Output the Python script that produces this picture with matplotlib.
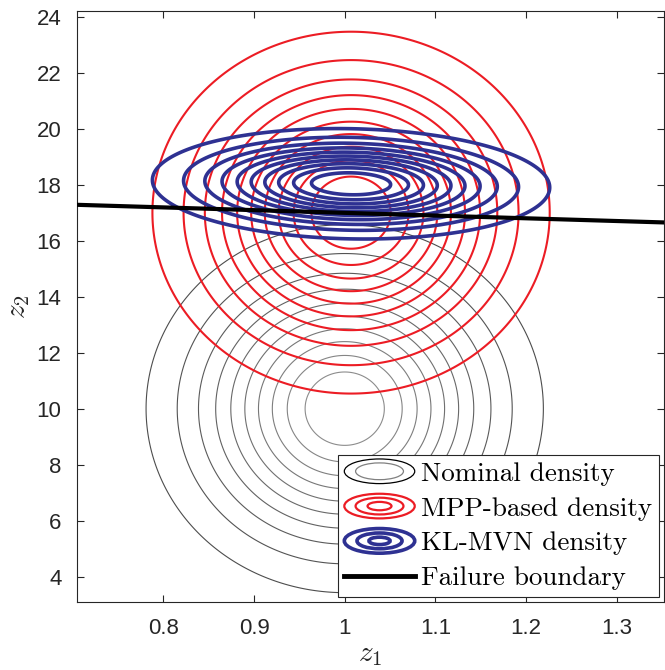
import numpy as np
import matplotlib
matplotlib.use("Agg")
import matplotlib.pyplot as plt
from matplotlib.patches import Ellipse
from matplotlib.lines import Line2D
from matplotlib.legend_handler import HandlerBase

plt.rcParams['font.family'] = ['Liberation Sans', 'DejaVu Sans']
plt.rcParams['mathtext.fontset'] = 'cm'

# Gaussian densities: mean (z1, z2), std (z1, z2), correlation
NOMINAL_MEAN = [1.0, 10.0]
NOMINAL_STD = [0.1, 3.0]
NOMINAL_RHO = 0.0

MPP_MEAN = [1.007, 17.0]
MPP_STD = [0.1, 2.95]
MPP_RHO = 0.0

KL_MEAN = [1.007, 18.03]
KL_STD = [0.1, 0.9]
KL_RHO = -0.067

# contour levels as fraction of each density's peak
LEVEL_FRACTIONS = [1/11, 2/11, 3/11, 4/11, 5/11, 6/11, 7/11, 8/11, 9/11, 10/11]

# failure boundary (straight line across the axes)
BOUNDARY_Z1 = [0.7045, 1.352]
BOUNDARY_Z2 = [17.28, 16.65]

XLIM = (0.7045, 1.352)
YLIM = (3.085, 24.21)
XTICKS = [0.8, 0.9, 1.0, 1.1, 1.2, 1.3]
XTICKLABELS = ['0.8', '0.9', '1', '1.1', '1.2', '1.3']
YTICKS = [4, 6, 8, 10, 12, 14, 16, 18, 20, 22, 24]

LABELS = ['Nominal density', 'MPP-based density', 'KL-MVN density',
          'Failure boundary']

RED = '#EC1C24'
BLUE = '#2E3192'


def gauss_pdf(Z1, Z2, mean, std, rho):
    u = (Z1 - mean[0]) / std[0]
    v = (Z2 - mean[1]) / std[1]
    q = (u ** 2 - 2 * rho * u * v + v ** 2) / (1 - rho ** 2)
    return np.exp(-0.5 * q) / (2 * np.pi * std[0] * std[1] * np.sqrt(1 - rho ** 2))


def peak_levels(mean, std, rho):
    peak = 1.0 / (2 * np.pi * std[0] * std[1] * np.sqrt(1 - rho ** 2))
    return [peak * f for f in LEVEL_FRACTIONS]


class EllipseIcon:
    def __init__(self, colors, widths, lw):
        self.colors = colors
        self.widths = widths
        self.lw = lw


class EllipseHandler(HandlerBase):
    def create_artists(self, legend, orig, xdescent, ydescent, width, height,
                       fontsize, trans):
        cx = width / 2 - xdescent
        cy = height / 2 - ydescent
        arts = []
        for c, w in zip(orig.colors, orig.widths):
            e = Ellipse((cx, cy), width * w, height * 1.3 * w, fill=False,
                        edgecolor=c, lw=orig.lw, transform=trans)
            arts.append(e)
        return arts


fig = plt.figure(figsize=(6.65, 6.7), dpi=100)
ax = fig.add_axes([0.1153, 0.101, 0.8832, 0.883])

z1 = np.linspace(XLIM[0], XLIM[1], 500)
z2 = np.linspace(YLIM[0], YLIM[1], 500)
Z1, Z2 = np.meshgrid(z1, z2)

gray_cols = [str(g) for g in np.linspace(0.3, 0.55, len(LEVEL_FRACTIONS))]
ax.contour(Z1, Z2, gauss_pdf(Z1, Z2, NOMINAL_MEAN, NOMINAL_STD, NOMINAL_RHO),
           levels=peak_levels(NOMINAL_MEAN, NOMINAL_STD, NOMINAL_RHO),
           colors=gray_cols, linewidths=0.8, zorder=1)
ax.contour(Z1, Z2, gauss_pdf(Z1, Z2, MPP_MEAN, MPP_STD, MPP_RHO),
           levels=peak_levels(MPP_MEAN, MPP_STD, MPP_RHO),
           colors=RED, linewidths=1.5, zorder=2)
ax.contour(Z1, Z2, gauss_pdf(Z1, Z2, KL_MEAN, KL_STD, KL_RHO),
           levels=peak_levels(KL_MEAN, KL_STD, KL_RHO),
           colors=BLUE, linewidths=2.6, zorder=3)
ax.plot(BOUNDARY_Z1, BOUNDARY_Z2, color='black', lw=3, zorder=4)

ax.set_xlim(XLIM)
ax.set_ylim(YLIM)
ax.set_xticks(XTICKS)
ax.set_xticklabels(XTICKLABELS)
ax.set_yticks(YTICKS)
ax.tick_params(direction='in', top=True, right=True, length=5, width=0.8,
               labelsize=16, colors='#262626', pad=11)
for s in ax.spines.values():
    s.set_color('#262626')
    s.set_linewidth(0.8)

ax.set_xlabel(r'$z_1$', fontsize=21, color='#262626', labelpad=1)
ax.set_ylabel(r'$z_2$', fontsize=21, color='#262626', labelpad=3)

handles = [
    EllipseIcon(['black', '0.5'], [1.0, 0.68], 0.9),
    EllipseIcon([RED, RED, RED], [1.0, 0.68, 0.34], 1.6),
    EllipseIcon([BLUE, BLUE, BLUE], [1.0, 0.64, 0.3], 2.6),
    Line2D([], [], color='black', lw=3.5),
]
leg = ax.legend(handles, LABELS, loc='lower right',
                prop={'family': 'cmr10', 'size': 19.5},
                handler_map={EllipseIcon: EllipseHandler()},
                handlelength=2.6, handletextpad=0.22, borderpad=0.25,
                labelspacing=0.4, borderaxespad=0.2, fancybox=False,
                framealpha=1, edgecolor='#262626')
leg.get_frame().set_linewidth(0.8)
leg.set_zorder(10)

fig.savefig('out.png', dpi=100)
